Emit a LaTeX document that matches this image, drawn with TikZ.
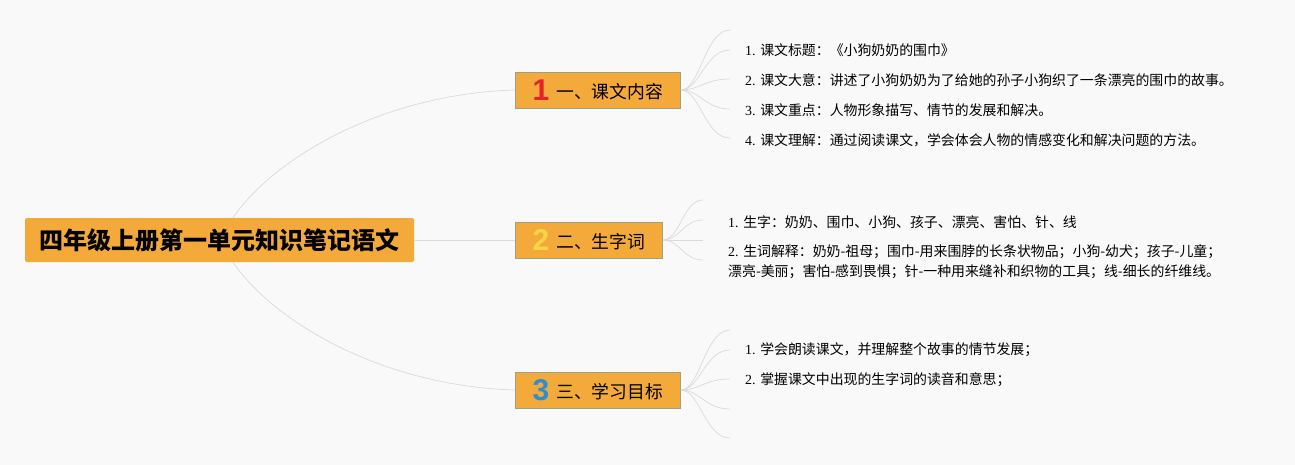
\documentclass[tikz,border=0pt]{standalone}
\usepackage{fontspec}
\usepackage{xcolor}
\usepackage{tikz}
\usetikzlibrary{positioning}

\setmainfont{Liberation Serif}
\newfontfamily\cjk{Noto Sans CJK SC}
\newfontfamily\numfont{Liberation Sans}

\definecolor{bggray}{HTML}{F9F9F9}
\definecolor{rootorange}{HTML}{F4A93B}
\definecolor{topicborder}{HTML}{98A384}
\definecolor{linkgray}{HTML}{DADADA}
\definecolor{numred}{HTML}{E2232A}
\definecolor{numyellow}{HTML}{F8D447}
\definecolor{numblue}{HTML}{2C8ED3}

\newcommand{\topicnum}[2]{\raisebox{-2pt}{\numfont\bfseries\fontsize{30}{30}\selectfont\color{#1}#2}\hspace{7pt}}

\begin{document}
\begin{tikzpicture}[
        x=1pt, y=-1pt,
        root/.style={rectangle, rounded corners=2pt, fill=rootorange, minimum width=389pt, minimum height=44pt, inner sep=0pt, font=\cjk\bfseries\fontsize{24}{28}\selectfont},
        topic/.style={rectangle, fill=rootorange, draw=topicborder, line width=0.8pt, minimum height=36pt, inner sep=0pt, anchor=west, font=\cjk\fontsize{17.8}{20}\selectfont},
        item/.style={anchor=west, inner sep=0pt, align=left, font=\fontsize{13.9}{20}\selectfont},
        link/.style={draw=linkgray, line width=0.7pt}
    ]
        \useasboundingbox[fill=bggray] (0,0) rectangle (1295,465);

        \node[root] (root) at (219.5,240) {四年级上册第一单元知识笔记语文};
        \node[topic, minimum width=165pt] (t1) at (515,90) {\topicnum{numred}{1}一、课文内容};
        \node[topic, minimum width=147pt] (t2) at (515,240) {\topicnum{numyellow}{2}二、生字词};
        \node[topic, minimum width=165pt] (t3) at (515,390) {\topicnum{numblue}{3}三、学习目标};

        % items of the first topic
        \node[item] (i11) at (745,50) {1. {\cjk 课文标题：《小狗奶奶的围巾》}};
        \node[item] (i12) at (745,80) {2. {\cjk 课文大意：讲述了小狗奶奶为了给她的孙子小狗织了一条漂亮的围巾的故事。}};
        \node[item] (i13) at (745,110) {3. {\cjk 课文重点：人物形象描写、情节的发展和解决。}};
        \node[item] (i14) at (745,140) {4. {\cjk 课文理解：通过阅读课文，学会体会人物的情感变化和解决问题的方法。}};

        % items of the second topic
        \node[item] (i21) at (728,222) {1. {\cjk 生字：奶奶、围巾、小狗、孩子、漂亮、害怕、针、线}};
        \node[item] (i22) at (728,262) {2. {\cjk 生词解释：奶奶-祖母；围巾-用来围脖的长条状物品；小狗-幼犬；孩子-儿童；}\\{\cjk 漂亮-美丽；害怕-感到畏惧；针-一种用来缝补和织物的工具；线-细长的纤维线。}};

        % items of the third topic
        \node[item] (i31) at (745,350) {1. {\cjk 学会朗读课文，并理解整个故事的情节发展；}};
        \node[item] (i32) at (745,380) {2. {\cjk 掌握课文中出现的生字词的读音和意思；}};

        % fan ends
        \coordinate (f10) at (730,30);
        \coordinate (f11) at (730,50);
        \coordinate (f12) at (730,79);
        \coordinate (f13) at (730,109);
        \coordinate (f14) at (730,138);
        \coordinate (f21) at (703,200);
        \coordinate (f22) at (703,220);
        \coordinate (f23) at (703,240);
        \coordinate (f24) at (703,260);
        \coordinate (f30) at (730,330);
        \coordinate (f31) at (730,350);
        \coordinate (f32) at (730,379);
        \coordinate (f33) at (730,409);
        \coordinate (f34) at (730,438);

        \draw[link] ([xshift=13.5pt]root.north) .. controls (272,160) and (380,94) .. (t1.west);
        \draw[link] (root.east) -- (t2.west);
        \draw[link] ([xshift=13.5pt]root.south) .. controls (272,320) and (380,386) .. (t3.west);

        \draw[link] (t1.east) .. controls (700,90) and (705,30) .. (f10);
        \draw[link] (t1.east) .. controls (700,90) and (705,50) .. (f11);
        \draw[link] (t1.east) .. controls (700,90) and (705,79) .. (f12);
        \draw[link] (t1.east) .. controls (700,90) and (705,109) .. (f13);
        \draw[link] (t1.east) .. controls (700,90) and (705,138) .. (f14);

        \draw[link] (t2.east) .. controls (680,240) and (683,200) .. (f21);
        \draw[link] (t2.east) .. controls (680,240) and (683,220) .. (f22);
        \draw[link] (t2.east) -- (f23);
        \draw[link] (t2.east) .. controls (680,240) and (683,260) .. (f24);

        \draw[link] (t3.east) .. controls (700,390) and (705,330) .. (f30);
        \draw[link] (t3.east) .. controls (700,390) and (705,350) .. (f31);
        \draw[link] (t3.east) .. controls (700,390) and (705,379) .. (f32);
        \draw[link] (t3.east) .. controls (700,390) and (705,409) .. (f33);
        \draw[link] (t3.east) .. controls (700,390) and (705,438) .. (f34);
    \end{tikzpicture}
\end{document}
